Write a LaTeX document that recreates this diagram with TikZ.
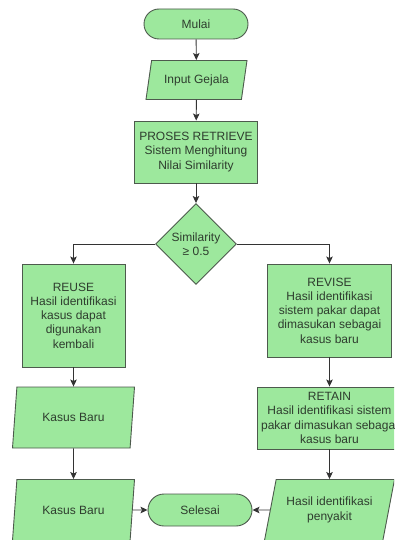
\documentclass[tikz,border=0pt]{standalone}
\usepackage{fontspec}
\setmainfont{Liberation Sans}
\usepackage{xcolor}
\usepackage{tikz}
\usetikzlibrary{arrows.meta}
\usetikzlibrary{shapes.geometric}

\definecolor{boxGreen}{HTML}{9DE89D}
\definecolor{edgeGray}{HTML}{4D5A4D}
\definecolor{labelGray}{HTML}{2E3D2E}

\tikzset{
  base/.style = {draw=edgeGray, fill=boxGreen, text=labelGray, line width=0.9pt,
                 align=center, inner sep=1pt, font=\fontsize{12}{14.3}\selectfont},
  terminal/.style = {base, rectangle, rounded corners=15pt, minimum width=104pt, minimum height=30pt},
  process/.style = {base, rectangle},
  io/.style = {base, trapezium, trapezium left angle=67, trapezium right angle=113,
               trapezium stretches body},
  decision/.style = {base, diamond, aspect=1},
  flow/.style = {->, draw=black!80, line width=0.9pt}
}

\begin{document}
\begin{tikzpicture}[x=1pt, y=-1pt, >={Stealth[length=7pt,width=6.5pt,inset=1.5pt]}]
    \clip (0,0) rectangle (394,540);
    \fill[white] (0,0) rectangle (394,540);

    \node[terminal](mulai) at (196,24) {Mulai};
    \node[io, minimum width=101pt, minimum height=39pt](inputGejala) at (196.5,80) {Input Gejala};
    \node[process, minimum width=123pt, minimum height=62pt](retrieve) at (196,152) {PROSES RETRIEVE\\Sistem Menghitung\\Nilai Similarity};
    \node[decision, minimum width=81pt, minimum height=81pt](similarity) at (196,244) {Similarity\\≥ 0.5};

    \node[process, minimum width=103pt, minimum height=103pt](reuse) at (73.5,315.5) {REUSE\\Hasil identifikasi\\kasus dapat\\digunakan\\kembali};
    \node[process, minimum width=124pt, minimum height=93pt](revise) at (329.5,310.5) {REVISE\\Hasil identifikasi\\sistem pakar dapat\\dimasukan sebagai\\kasus baru};

    \node[io, minimum width=122pt, minimum height=61pt](kasusBaruA) at (73.5,417.5) {Kasus Baru};
    \node[process, minimum width=144pt, minimum height=62pt](retain) at (329.5,418) {RETAIN\\Hasil identifikasi sistem\\pakar dimasukan sebagai\\kasus baru};

    \node[io, minimum width=122pt, minimum height=61pt](kasusBaruB) at (73.5,510) {Kasus Baru};
    \node[terminal, minimum height=32pt, rounded corners=16pt](selesai) at (200,510) {Selesai};
    \node[io, minimum width=130pt, minimum height=61pt](penyakit) at (329.5,510) {Hasil identifikasi\\penyakit};

    \draw [flow] (mulai) -- (inputGejala);
    \draw [flow] (inputGejala) -- (retrieve);
    \draw [flow] (retrieve) -- (similarity);
    \draw [flow] (similarity.west) -| (reuse.north);
    \draw [flow] (similarity.east) -| (revise.north);

    \draw [flow] (reuse) -- (kasusBaruA);
    \draw [flow] (kasusBaruA) -- (kasusBaruB);
    \draw [flow] (revise) -- (retain);
    \draw [flow] (retain) -- (penyakit);

    \draw [flow] (kasusBaruB.east) -- (selesai.west);
    \draw [flow] (penyakit.west) -- (selesai.east);
\end{tikzpicture}
\end{document}
